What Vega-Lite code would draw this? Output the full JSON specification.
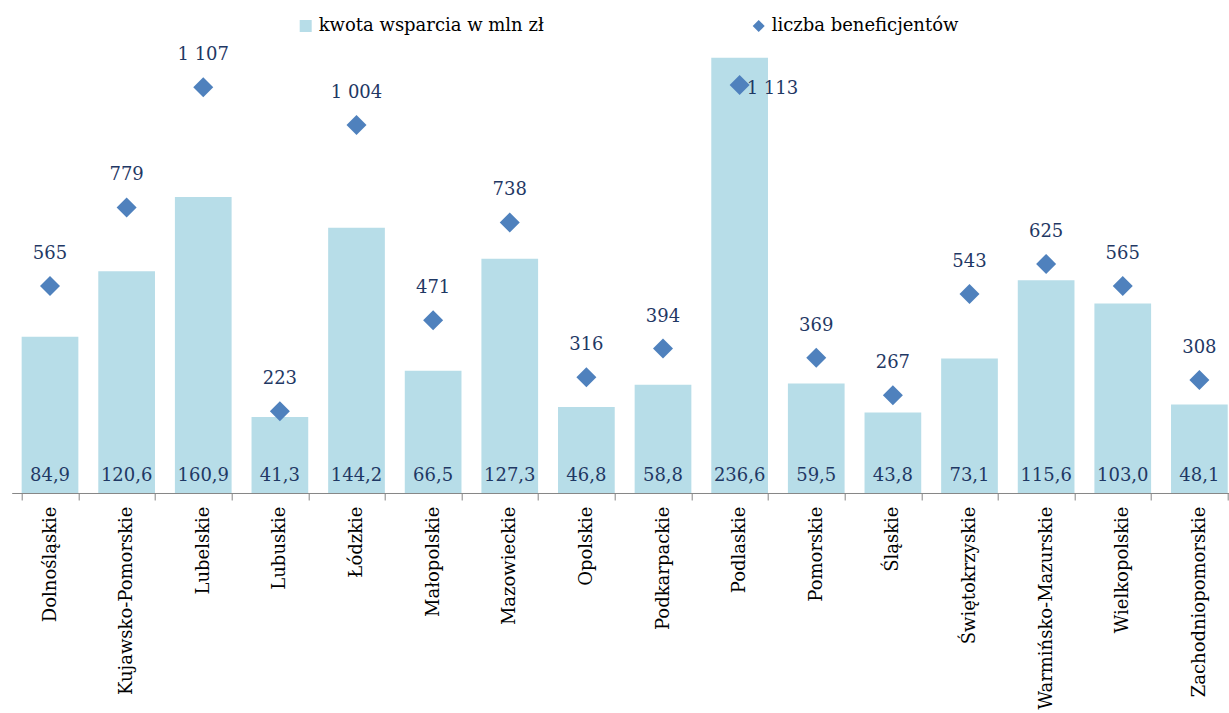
{
  "$schema": "https://vega.github.io/schema/vega-lite/v6.json",
  "autosize": {"type": "none"},
  "padding": {"left": 11.7, "top": 0, "right": 0, "bottom": 220},
  "width": 1226,
  "height": 493,
  "config": {
    "view": {"stroke": null},
    "font": "DejaVu Serif",
    "locale": {"number": {"decimal": ",", "thousands": " ", "grouping": [3], "currency": ["", " zł"]}},
    "legend": {
      "orient": "none",
      "legendX": 285,
      "legendY": 17,
      "direction": "horizontal",
      "columns": 2,
      "columnPadding": 205,
      "labelFont": "DejaVu Serif",
      "labelFontSize": 18,
      "labelColor": "#000000",
      "labelOffset": 4,
      "labelLimit": 500,
      "symbolSize": 144,
      "symbolStrokeWidth": 0
    }
  },
  "data": {
    "values": [
      {"region": "Dolnośląskie", "kwota": 84.9, "liczba": 565},
      {"region": "Kujawsko-Pomorskie", "kwota": 120.6, "liczba": 779},
      {"region": "Lubelskie", "kwota": 160.9, "liczba": 1107},
      {"region": "Lubuskie", "kwota": 41.3, "liczba": 223},
      {"region": "Łódzkie", "kwota": 144.2, "liczba": 1004},
      {"region": "Małopolskie", "kwota": 66.5, "liczba": 471},
      {"region": "Mazowieckie", "kwota": 127.3, "liczba": 738},
      {"region": "Opolskie", "kwota": 46.8, "liczba": 316},
      {"region": "Podkarpackie", "kwota": 58.8, "liczba": 394},
      {"region": "Podlaskie", "kwota": 236.6, "liczba": 1113},
      {"region": "Pomorskie", "kwota": 59.5, "liczba": 369},
      {"region": "Śląskie", "kwota": 43.8, "liczba": 267},
      {"region": "Świętokrzyskie", "kwota": 73.1, "liczba": 543},
      {"region": "Warmińsko-Mazurskie", "kwota": 115.6, "liczba": 625},
      {"region": "Wielkopolskie", "kwota": 103.0, "liczba": 565},
      {"region": "Zachodniopomorskie", "kwota": 48.1, "liczba": 308}
    ]
  },
  "encoding": {
    "x": {
      "field": "region",
      "type": "nominal",
      "sort": null,
      "title": null,
      "scale": {"paddingInner": 0.26, "paddingOuter": 0.13},
      "axis": {
        "labelAngle": -90,
        "labelAlign": "right",
        "labelBaseline": "middle",
        "labelFont": "DejaVu Serif",
        "labelFontSize": 18,
        "labelColor": "#000000",
        "labelPadding": 6,
        "labelLimit": 300,
        "tickBand": "extent",
        "tickSize": 7,
        "tickColor": "#868686",
        "domainColor": "#868686",
        "labelOverlap": false
      }
    }
  },
  "layer": [
    {
      "layer": [
        {
          "mark": {"type": "bar"},
          "encoding": {
            "y": {"field": "kwota", "type": "quantitative", "scale": {"domain": [0, 268], "nice": false}, "axis": null},
            "color": {
              "datum": "kwota wsparcia w mln zł",
              "scale": {"domain": ["kwota wsparcia w mln zł", "liczba beneficjentów"], "range": ["#b7dde8", "#4f81bd"]},
              "legend": {
                "title": null,
                "encode": {
                  "symbols": {"update": {"shape": {"signal": "datum.value === 'liczba beneficjentów' ? 'diamond' : 'square'"}}}
                }
              }
            }
          }
        },
        {
          "mark": {"type": "text", "baseline": "middle", "dy": -17, "fontSize": 18, "color": "#1f3864", "font": "DejaVu Serif"},
          "encoding": {
            "y": {"datum": 0, "type": "quantitative"},
            "text": {"field": "kwota", "type": "quantitative", "format": ".1f"}
          }
        }
      ]
    },
    {
      "layer": [
        {
          "mark": {"type": "point", "shape": "diamond", "filled": true, "size": 400, "opacity": 1},
          "encoding": {
            "y": {"field": "liczba", "type": "quantitative", "scale": {"domain": [0, 1345], "nice": false}, "axis": null},
            "color": {"datum": "liczba beneficjentów"}
          }
        },
        {
          "transform": [{"filter": "datum.region !== 'Podlaskie'"}],
          "mark": {"type": "text", "baseline": "middle", "dy": -32, "fontSize": 18, "color": "#1f3864", "font": "DejaVu Serif"},
          "encoding": {
            "y": {"field": "liczba", "type": "quantitative"},
            "text": {"field": "liczba", "type": "quantitative", "format": ",d"}
          }
        },
        {
          "transform": [{"filter": "datum.region === 'Podlaskie'"}],
          "mark": {"type": "text", "baseline": "middle", "align": "left", "dx": 7, "dy": 4, "fontSize": 18, "color": "#1f3864", "font": "DejaVu Serif"},
          "encoding": {
            "y": {"field": "liczba", "type": "quantitative"},
            "text": {"field": "liczba", "type": "quantitative", "format": ",d"}
          }
        }
      ]
    }
  ],
  "resolve": {"scale": {"y": "independent"}}
}
